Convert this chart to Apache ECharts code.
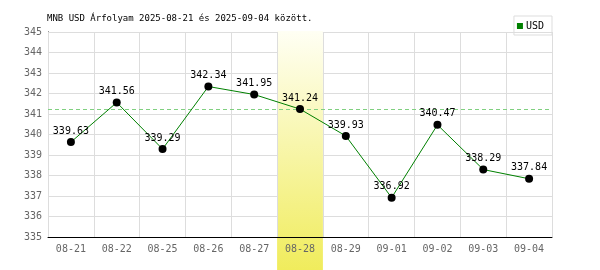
<!DOCTYPE html>
<html>
<head>
<meta charset="utf-8">
<script src="https://cdn.jsdelivr.net/npm/echarts@6/dist/echarts.min.js"></script>
<style>html,body{margin:0;padding:0;background:#fff}#c{width:600px;height:270px}</style>
</head>
<body>
<div id="c"></div>
<script>
const titleText = 'MNB USD Árfolyam 2025-08-21 és 2025-09-04 között.';
const seriesName = 'USD';
const categories = ['08-21','08-22','08-25','08-26','08-27','08-28','08-29','09-01','09-02','09-03','09-04'];
const values = [339.63, 341.56, 339.29, 342.34, 341.95, 341.24, 339.93, 336.92, 340.47, 338.29, 337.84];
const highlightCategory = '08-28';
const referenceValue = 341.24;
const yMin = 335, yMax = 345, yStep = 1;

const FONT = 'DejaVu Sans Mono';
const chart = echarts.init(document.getElementById('c'), null, {renderer: 'canvas'});
const gridL = 48, gridR = 48, gridT = 32, gridB = 33;

chart.setOption({
  animation: false,
  backgroundColor: '#fff',
  title: {
    text: titleText, left: 47, top: 14, padding: 0,
    textStyle: {fontFamily: FONT, fontSize: 9, fontWeight: 'normal', color: '#000'}
  },
  legend: {
    right: 48, top: 16,
    data: [{name: seriesName, icon: 'rect', itemStyle: {color: '#008000'}}],
    itemWidth: 6, itemHeight: 6, itemGap: 3,
    borderColor: '#dddddd', borderWidth: 1, padding: [5, 8, 4, 3],
    textStyle: {fontFamily: FONT, fontSize: 10, color: '#000', padding: [0, 0, 0, -2]}
  },
  grid: {left: gridL, right: gridR, top: gridT, bottom: gridB},
  xAxis: {
    type: 'category', data: categories, boundaryGap: true, z: 2,
    axisLine: {lineStyle: {color: '#000', width: 1}},
    axisTick: {show: false},
    splitLine: {show: true, interval: 0, lineStyle: {color: '#dddddd', width: 1}},
    axisLabel: {fontFamily: FONT, fontSize: 10, color: '#666', margin: 7, interval: 0}
  },
  yAxis: {
    type: 'value', min: yMin, max: yMax, interval: yStep, z: 0,
    axisLine: {show: true, lineStyle: {color: '#000', width: 1}},
    axisTick: {show: false},
    splitLine: {lineStyle: {color: '#dddddd', width: 1}},
    axisLabel: {fontFamily: FONT, fontSize: 10, color: '#666', margin: 6}
  },
  series: [{
    name: seriesName, type: 'line', data: values, z: 3,
    lineStyle: {color: '#008000', width: 1},
    itemStyle: {color: '#000'},
    symbol: 'circle', symbolSize: 8,
    label: {show: true, position: 'top', distance: 2, fontFamily: FONT, fontSize: 10, color: '#000'}
  }]
});

const cx = chart.convertToPixel({xAxisIndex: 0}, highlightCategory);
const ry = Math.round(chart.convertToPixel({yAxisIndex: 0}, referenceValue)) + 0.5;
const bw = (600 - gridL - gridR) / categories.length;
chart.setOption({
  graphic: [{
    type: 'rect', z: 1, silent: true,
    shape: {x: cx - bw / 2, y: gridT - 1, width: bw, height: 270 - gridT + 1},
    style: {fill: new echarts.graphic.LinearGradient(0, 0, 0, 1, [
      {offset: 0, color: '#fffff4'},
      {offset: 1, color: '#f0ec5c'}
    ])}
  }, {
    type: 'line', z: 2, silent: true,
    shape: {x1: gridL, y1: ry, x2: 600 - gridR, y2: ry},
    style: {stroke: '#80d080', lineWidth: 1, lineDash: [4, 3]}
  }]
});
</script>
</body>
</html>
